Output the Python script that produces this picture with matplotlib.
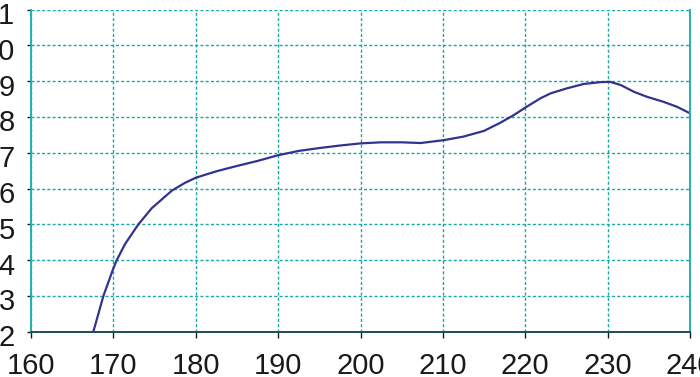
import numpy as np
import matplotlib.pyplot as plt
import matplotlib.transforms as mtransforms

plt.rcParams['font.family'] = ['Liberation Sans', 'DejaVu Sans']

# valores
x = [167.57, 168.79, 170.0, 170.41, 171.42, 173.04, 174.66, 177.1, 178.7, 180.0,
     181.1, 182.5, 185.0, 187.5, 190.0, 192.5, 195.0, 197.5, 200.0, 202.5,
     205.0, 207.3, 210.1, 212.5, 215.0, 217.0, 218.6, 220.15, 221.85, 223.1,
     225.1, 227.1, 229.1, 230.3, 231.6, 233.2, 234.8, 236.8, 238.45, 240.0]
y = [2.00, 3.00, 3.77, 4.00, 4.45, 5.00, 5.45, 5.94, 6.16, 6.30,
     6.38, 6.48, 6.63, 6.77, 6.93, 7.05, 7.13, 7.20, 7.26, 7.29,
     7.29, 7.27, 7.35, 7.45, 7.61, 7.84, 8.05, 8.28, 8.52, 8.66,
     8.80, 8.92, 8.97, 8.98, 8.89, 8.70, 8.56, 8.42, 8.28, 8.10]

xticks = [160, 170, 180, 190, 200, 210, 220, 230, 240]
yticks = [2, 3, 4, 5, 6, 7, 8, 9, 10, 11]

fig = plt.figure(figsize=(7, 3.77), dpi=100)
ax = fig.add_axes([31/700, 1-331.7/377, 659/700, 322.2/377])

ax.plot(x, y, color='#33338f', lw=1.6, solid_joinstyle='round')

ax.set_xlim(160, 240)
ax.set_ylim(2, 11)
ax.set_xticks(xticks)
ax.set_yticks(yticks)

ax.grid(True, color='#1aa8a8', linestyle=(0, (2.2, 1.6)), lw=1.0)
ax.spines['top'].set_visible(False)
ax.spines['left'].set_color('#20b0b0')
ax.spines['right'].set_color('#20b0b0')
ax.spines['bottom'].set_color('#1e4f4f')
for s in ax.spines.values():
    s.set_linewidth(1.4)

ax.tick_params(axis='x', direction='out', length=4, width=1, pad=10.5,
               labelsize=21, colors='#1a1a1a')
ax.tick_params(axis='y', direction='out', length=3, width=1, pad=8.6,
               labelsize=21, colors='#1a1a1a')

# rotulos do eixo y um pouco abaixo das marcas
desloc = mtransforms.ScaledTranslation(0, -3.5/100, fig.dpi_scale_trans)
for lbl in ax.get_yticklabels():
    lbl.set_transform(lbl.get_transform() + desloc)

fig.savefig('out.png', dpi=100)
